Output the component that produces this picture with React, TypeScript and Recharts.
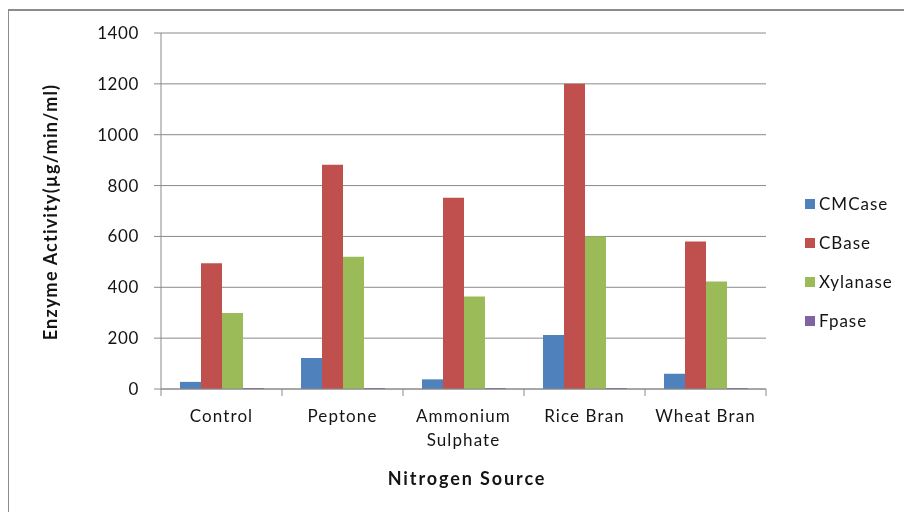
import React from 'react'
import { BarChart, Bar, XAxis, YAxis, CartesianGrid, Legend } from 'recharts'

const categories = ['Control', 'Peptone', 'Ammonium Sulphate', 'Rice Bran', 'Wheat Bran']
const cmcase = [28, 122, 38, 212, 60]
const cbase = [495, 882, 752, 1200, 580]
const xylanase = [299, 520, 364, 600, 423]
const fpase = [4, 4, 4, 4, 4]
const yTicks = [0, 200, 400, 600, 800, 1000, 1200, 1400]

const series = [
  { key: 'CMCase', color: '#4F81BD' },
  { key: 'CBase', color: '#C0504D' },
  { key: 'Xylanase', color: '#9BBB59' },
  { key: 'Fpase', color: '#8064A2' },
]

const data = categories.map((name, i) => ({
  name,
  CMCase: cmcase[i],
  CBase: cbase[i],
  Xylanase: xylanase[i],
  Fpase: fpase[i],
}))

const FONT = 'Lato, "Open Sans", sans-serif'
const GRID = '#8a8a8a'
const INK = '#141414'

// category label plus Excel-style tick marks on the band edges
function CategoryTick(props: any) {
  const { x, y, payload, index, width, visibleTicksCount } = props
  const band = (width || 605) / (visibleTicksCount || categories.length)
  const lines = payload.value === 'Ammonium Sulphate' ? String(payload.value).split(' ') : [payload.value]
  const last = index === categories.length - 1
  return (
    <g>
      <line x1={x - band / 2} x2={x - band / 2} y1={y} y2={y + 7} stroke={GRID} />
      {last && <line x1={x + band / 2} x2={x + band / 2} y1={y} y2={y + 7} stroke={GRID} />}
      <text x={x} y={y} textAnchor="middle" fontSize={17} letterSpacing={1.1} fill={INK} fontFamily={FONT}>
        {lines.map((l: string, i: number) => (
          <tspan key={i} x={x} dy={i === 0 ? 33 : 24}>
            {l}
          </tspan>
        ))}
      </text>
    </g>
  )
}

function LegendBox() {
  return (
    <div style={{ fontFamily: FONT, fontSize: 17, letterSpacing: 1, color: INK }}>
      {series.map((s) => (
        <div key={s.key} style={{ display: 'flex', alignItems: 'center', height: 39 }}>
          <span style={{ width: 10, height: 10, background: s.color, marginRight: 4, display: 'inline-block' }} />
          {s.key}
        </div>
      ))}
    </div>
  )
}

export default function App() {
  return (
    <div style={{ position: 'relative', width: 888, height: 496, fontFamily: FONT, background: '#fff' }}>
      <div
        style={{
          position: 'fixed',
          left: 8,
          top: 9,
          right: 0,
          bottom: 0,
          borderTop: '2px solid #8c8c8c',
          borderLeft: '1px solid #8c8c8c',
          pointerEvents: 'none',
        }}
      />
      <BarChart
        width={888}
        height={496}
        data={data}
        margin={{ top: 25, right: 130, left: 100, bottom: 65 }}
        barGap={0}
      >
        <CartesianGrid vertical={false} stroke={GRID} strokeWidth={1} />
        <XAxis
          dataKey="name"
          height={50}
          axisLine={{ stroke: GRID }}
          tickLine={false}
          tickSize={0}
          tickMargin={0}
          tick={<CategoryTick />}
          interval={0}
        />
        <YAxis
          width={53}
          domain={[0, 1400]}
          ticks={yTicks}
          axisLine={{ stroke: GRID }}
          tickLine={{ stroke: GRID }}
          tickSize={7}
          tickMargin={15}
          tick={{ fontSize: 17, fill: INK, fontFamily: FONT, letterSpacing: 0.6 }}
        />
        <Legend
          layout="vertical"
          align="center"
          verticalAlign="middle"
          content={<LegendBox />}
          wrapperStyle={{ left: 797, top: 176, width: 91 }}
        />
        {series.map((s) => (
          <Bar key={s.key} dataKey={s.key} fill={s.color} barSize={21} isAnimationActive={false} />
        ))}
      </BarChart>
      <div
        style={{
          position: 'absolute',
          left: 42,
          top: 204,
          transform: 'translate(-50%, -50%) rotate(-90deg)',
          whiteSpace: 'nowrap',
          fontWeight: 700,
          fontSize: 18,
          letterSpacing: 1.2,
          color: INK,
        }}
      >
        Enzyme Activity(µg/min/ml)
      </div>
      <div
        style={{
          position: 'absolute',
          left: 459,
          top: 470,
          transform: 'translate(-50%, -50%)',
          whiteSpace: 'nowrap',
          fontWeight: 700,
          fontSize: 18,
          letterSpacing: 1.9,
          color: INK,
        }}
      >
        Nitrogen Source
      </div>
    </div>
  )
}
